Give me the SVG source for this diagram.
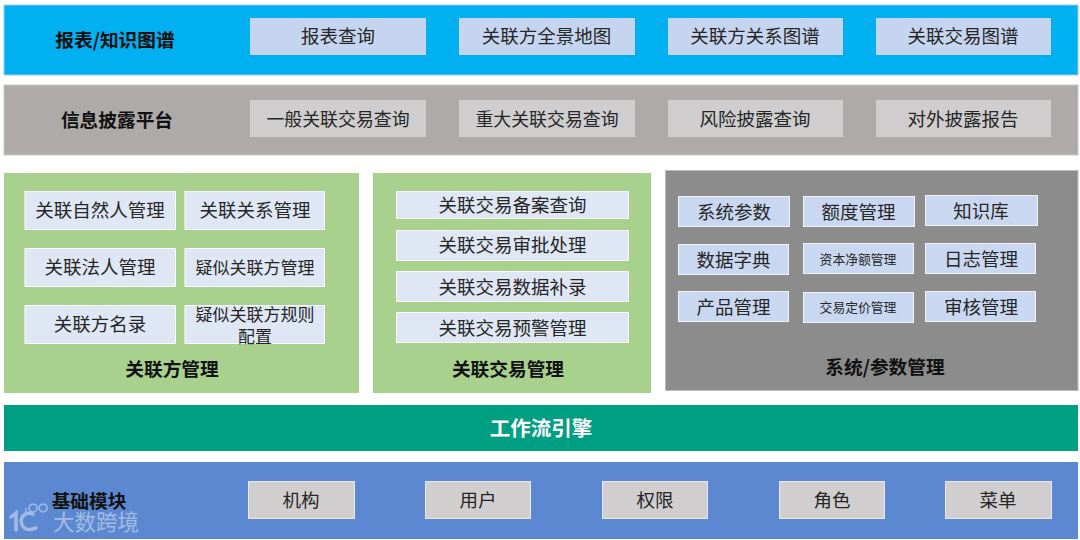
<svg xmlns="http://www.w3.org/2000/svg" width="1080" height="540" viewBox="0 0 1080 540">
<style>
text{font-family:"Noto Sans CJK SC","Noto Sans",sans-serif;text-anchor:middle;dominant-baseline:central;fill:#262626;font-size:18.5px}
.h{font-weight:700;font-size:18.7px;fill:#111}
.s{font-size:12.8px}
.m{font-size:17px}
.q{font-size:17.9px}
.a{fill:#C5D5EF}
.g{fill:#CFCDCD}
.l{fill:#DEE7F3;stroke:#fff;stroke-width:1}
.b{fill:#C9D8F0;stroke:#F2F2F2;stroke-width:1}
.n{fill:#D0CECE;stroke:#E8E8E8;stroke-width:1}
</style>
<rect width="1080" height="540" fill="#fff"/>
<g id="report">
<rect x="4" y="5" width="1074" height="70" fill="#00B0F0" stroke="#9CC9EE"/>
<text class="h" x="115" y="38">报表/知识图谱</text>
<rect class="a" x="250" y="18" width="176" height="37"/><text x="338" y="35">报表查询</text>
<rect class="a" x="459" y="18" width="176" height="37"/><text x="546.500" y="35">关联方全景地图</text>
<rect class="a" x="668" y="18" width="175" height="37"/><text x="755" y="35">关联方关系图谱</text>
<rect class="a" x="876" y="18" width="175" height="37"/><text x="963" y="35">关联交易图谱</text>
</g>
<g id="disclosure">
<rect x="4" y="85" width="1074" height="70" fill="#AEAAAA" stroke="#C8C8C8"/>
<text class="h" x="117" y="118">信息披露平台</text>
<rect class="g" x="250" y="100" width="176" height="37"/><text class="q" x="338" y="118">一般关联交易查询</text>
<rect class="g" x="459" y="100" width="176" height="37"/><text class="q" x="547" y="118">重大关联交易查询</text>
<rect class="g" x="668" y="100" width="175" height="37"/><text x="755" y="118">风险披露查询</text>
<rect class="g" x="876" y="100" width="175" height="37"/><text x="963" y="118">对外披露报告</text>
</g>
<g id="party">
<rect x="4" y="173" width="355" height="220" fill="#A9D18E"/>
<rect class="l" x="25" y="191.500" width="150.500" height="38"/><text x="100" y="209">关联自然人管理</text>
<rect class="l" x="185" y="191.500" width="139.500" height="38"/><text x="255" y="209">关联关系管理</text>
<rect class="l" x="25" y="248.500" width="150.500" height="38"/><text x="100" y="266">关联法人管理</text>
<rect class="l" x="185" y="248.500" width="139.500" height="38"/><text class="m" x="255" y="266">疑似关联方管理</text>
<rect class="l" x="25" y="305.500" width="150.500" height="38"/><text x="100" y="323">关联方名录</text>
<rect class="l" x="185" y="305.500" width="139.500" height="38"/><text class="m" x="255" y="313.500">疑似关联方规则</text><text class="m" x="255" y="335">配置</text>
<text class="h" x="172" y="367">关联方管理</text>
</g>
<g id="transaction">
<rect x="373" y="173" width="278" height="220" fill="#A9D18E"/>
<rect class="l" x="396.500" y="191.500" width="232" height="27"/><text x="512.500" y="204">关联交易备案查询</text>
<rect class="l" x="396.500" y="230.500" width="232" height="30"/><text x="512.500" y="244">关联交易审批处理</text>
<rect class="l" x="396.500" y="271.500" width="232" height="30"/><text x="512.500" y="286">关联交易数据补录</text>
<rect class="l" x="396.500" y="312.500" width="232" height="30"/><text x="512.500" y="327">关联交易预警管理</text>
<text class="h" x="508" y="367">关联交易管理</text>
</g>
<g id="system">
<rect x="665.500" y="170.500" width="412.500" height="220" fill="#8C8C8C" stroke="#BDBDBD"/>
<rect class="b" x="678.500" y="196.500" width="111" height="30"/><text x="734" y="211">系统参数</text>
<rect class="b" x="803.500" y="196.500" width="111" height="30"/><text x="858.500" y="211">额度管理</text>
<rect class="b" x="925.500" y="195.500" width="112" height="30"/><text x="981" y="210">知识库</text>
<rect class="b" x="678.500" y="244.500" width="110" height="30"/><text x="733.500" y="259">数据字典</text>
<rect class="b" x="803.500" y="243.500" width="110" height="30"/><text class="s" x="858" y="258">资本净额管理</text>
<rect class="b" x="925.500" y="243.500" width="110" height="30"/><text x="981" y="258">日志管理</text>
<rect class="b" x="678.500" y="291.500" width="110" height="30"/><text x="733.500" y="306">产品管理</text>
<rect class="b" x="803.500" y="292.500" width="110" height="30"/><text class="s" x="858" y="306">交易定价管理</text>
<rect class="b" x="925.500" y="291.500" width="110" height="30"/><text x="981" y="306">审核管理</text>
<text class="h" x="885" y="365">系统/参数管理</text>
</g>
<g id="workflow">
<rect x="4" y="405" width="1074" height="46" fill="#009E82"/>
<text class="h" x="541" y="427" style="fill:#fff;font-size:20.500px">工作流引擎</text>
</g>
<g id="base">
<rect x="4" y="462" width="1074" height="77" fill="#5B88D0"/>
<text class="h" x="89" y="499">基础模块</text>
<rect class="n" x="248.500" y="481.500" width="106" height="37"/><text x="301" y="499">机构</text>
<rect class="n" x="425.500" y="481.500" width="105" height="37"/><text x="478" y="499">用户</text>
<rect class="n" x="602.500" y="481.500" width="105" height="37"/><text x="655" y="499">权限</text>
<rect class="n" x="779.500" y="481.500" width="105" height="37"/><text x="832" y="499">角色</text>
<rect class="n" x="945.500" y="481.500" width="106" height="37"/><text x="998" y="499">菜单</text>
</g>
<g id="watermark" opacity="0.5">
<path d="M11 517 L16 513 V530 M33 514 Q23 511 21 521 Q23 533 36 528" fill="none" stroke="#E8EEF8" stroke-width="3.500" stroke-linecap="round"/>
<path d="M26 513 V508 M33 512 a4 4 0 1 1 .1 0 M43 512 a4 4 0 1 1 .1 0" fill="none" stroke="#E8EEF8" stroke-width="1.500"/>
<text x="96" y="520" style="fill:#E8EEF8;font-size:21.500px">大数跨境</text>
</g>
</svg>
